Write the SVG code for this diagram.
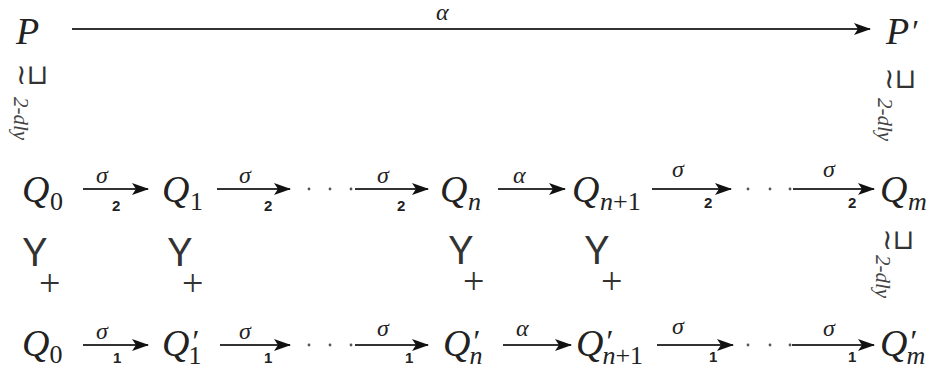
<svg xmlns="http://www.w3.org/2000/svg" width="930" height="372" viewBox="0 0 930 372">
<style>
.m{font-family:"Liberation Serif","DejaVu Serif",serif;font-style:italic;font-size:38px;fill:#222}
.s{font-family:"Liberation Serif","DejaVu Serif",serif;font-style:normal;font-size:26px;fill:#222}
.si{font-family:"Liberation Serif","DejaVu Serif",serif;font-style:italic;font-size:26px;fill:#222}
.pr{font-family:"Liberation Serif","DejaVu Serif",serif;font-style:italic;font-size:32px;fill:#222}
.lab{font-family:"Liberation Serif","DejaVu Serif",serif;font-style:italic;font-size:24px;fill:#222}
.n{font-family:"Liberation Sans","DejaVu Sans",sans-serif;font-weight:bold;font-size:15px;fill:#222}
.sym{font-family:"DejaVu Sans",sans-serif;font-size:28px;fill:#333}
.dly{font-family:"Liberation Serif","DejaVu Serif",serif;font-style:italic;font-size:21px;fill:#444}
.y{font-family:Lato,"Open Sans","Liberation Sans",sans-serif;font-size:38px;fill:#333}
.pl{font-family:"Liberation Serif","DejaVu Serif",serif;font-size:38px;fill:#333}
.ar{stroke:#333;stroke-width:2;fill:none;marker-end:url(#ah)}
.dot{fill:#555}
</style>
<defs>
<marker id="ah" markerUnits="userSpaceOnUse" markerWidth="18" markerHeight="12" refX="16" refY="6" orient="auto">
<path d="M0,0 L17,6 L0,12 L4,6 z" fill="#111"/>
</marker>
</defs>
<g id="connectors">
<line class="ar" x1="72" y1="29" x2="870" y2="29"/>
<line class="ar" x1="83" y1="189" x2="148" y2="189"/>
<line class="ar" x1="217" y1="189" x2="290" y2="189"/>
<line class="ar" x1="355" y1="189" x2="428" y2="189"/>
<line class="ar" x1="498" y1="189" x2="565" y2="189"/>
<line class="ar" x1="652" y1="189" x2="731" y2="189"/>
<line class="ar" x1="793" y1="189" x2="874" y2="189"/>
<line class="ar" x1="83" y1="345" x2="148" y2="345"/>
<line class="ar" x1="220" y1="345" x2="290" y2="345"/>
<line class="ar" x1="355" y1="345" x2="428" y2="345"/>
<line class="ar" x1="503" y1="345" x2="571" y2="345"/>
<line class="ar" x1="657" y1="345" x2="733" y2="345"/>
<line class="ar" x1="792" y1="345" x2="874" y2="345"/>
<circle class="dot" cx="309" cy="189" r="1.4"/><circle class="dot" cx="330" cy="189" r="1.4"/><circle class="dot" cx="351" cy="189" r="1.4"/>
<circle class="dot" cx="748" cy="189" r="1.4"/><circle class="dot" cx="770" cy="189" r="1.4"/><circle class="dot" cx="790" cy="189" r="1.4"/>
<circle class="dot" cx="309" cy="345" r="1.4"/><circle class="dot" cx="330" cy="345" r="1.4"/><circle class="dot" cx="351" cy="345" r="1.4"/>
<circle class="dot" cx="748" cy="345" r="1.4"/><circle class="dot" cx="770" cy="345" r="1.4"/><circle class="dot" cx="790" cy="345" r="1.4"/>
<text class="lab" x="436" y="20">α</text>
<text class="lab" x="96" y="183">σ</text><text class="n" x="112" y="211">2</text>
<text class="lab" x="239" y="183">σ</text><text class="n" x="264" y="211">2</text>
<text class="lab" x="377" y="183">σ</text><text class="n" x="397" y="211">2</text>
<text class="lab" x="513" y="183">α</text>
<text class="lab" x="672" y="177">σ</text><text class="n" x="704" y="208">2</text>
<text class="lab" x="823" y="177">σ</text><text class="n" x="848" y="208">2</text>
<text class="lab" x="96" y="339">σ</text><text class="n" x="113" y="363">1</text>
<text class="lab" x="239" y="339">σ</text><text class="n" x="264" y="363">1</text>
<text class="lab" x="377" y="336">σ</text><text class="n" x="405" y="363">1</text>
<text class="lab" x="516" y="336">α</text>
<text class="lab" x="672" y="334">σ</text><text class="n" x="709" y="362">1</text>
<text class="lab" x="823" y="336">σ</text><text class="n" x="848" y="362">1</text>
</g>
<g id="P"><text class="m" x="16" y="44">P</text></g>
<g id="P-prime"><text x="886" y="44"><tspan class="m">P</tspan><tspan class="pr" dx="1" dy="-2">′</tspan></text></g>
<g id="rel-left-top"><text class="sym" x="16" y="84">≀⊔</text><text class="dly" transform="translate(14,97) rotate(90)">2-dly</text></g>
<g id="rel-right-top"><text class="sym" x="884" y="88">≀⊔</text><text class="dly" transform="translate(878,98) rotate(90)">2-dly</text></g>
<g id="rel-right-bottom"><text class="sym" x="882" y="249">≀⊔</text><text class="dly" transform="translate(876,255) rotate(90)">2-dly</text></g>
<g id="Q0"><text class="m" x="22" y="202">Q</text><text class="s" x="50" y="210">0</text></g>
<g id="Q1"><text class="m" x="162" y="202">Q</text><text class="s" x="190" y="210">1</text></g>
<g id="Qn"><text class="m" x="440" y="202">Q</text><text class="si" x="468" y="210">n</text></g>
<g id="Qn1"><text class="m" x="572" y="202">Q</text><text x="600" y="210"><tspan class="si">n</tspan><tspan class="s">+1</tspan></text></g>
<g id="Qm"><text class="m" x="880" y="202">Q</text><text class="si" x="908" y="210">m</text></g>
<g id="succ-0"><text><tspan class="y" x="23" y="266">Y</tspan><tspan class="pl" x="39" y="296">+</tspan></text></g>
<g id="succ-1"><text><tspan class="y" x="168" y="266">Y</tspan><tspan class="pl" x="182" y="296">+</tspan></text></g>
<g id="succ-n"><text><tspan class="y" x="449" y="264">Y</tspan><tspan class="pl" x="463" y="294">+</tspan></text></g>
<g id="succ-n1"><text><tspan class="y" x="585" y="264">Y</tspan><tspan class="pl" x="601" y="294">+</tspan></text></g>
<g id="Q0b"><text x="22" y="356"><tspan class="m">Q</tspan><tspan class="s" dy="7">0</tspan></text></g>
<g id="Q1p"><text x="162" y="356"><tspan class="m">Q</tspan><tspan class="pr" dx="1" dy="-4">′</tspan><tspan class="s" dx="-9" dy="12">1</tspan></text></g>
<g id="Qnp"><text x="443" y="356"><tspan class="m">Q</tspan><tspan class="pr" dx="1" dy="-4">′</tspan><tspan class="si" dx="-9" dy="12">n</tspan></text></g>
<g id="Qn1p"><text x="576" y="356"><tspan class="m">Q</tspan><tspan class="pr" dx="1" dy="-4">′</tspan><tspan class="si" dx="-9" dy="12">n</tspan><tspan class="s">+1</tspan></text></g>
<g id="Qmp"><text x="880" y="356"><tspan class="m">Q</tspan><tspan class="pr" dx="1" dy="-4">′</tspan><tspan class="si" dx="-9" dy="12">m</tspan></text></g>
</svg>
